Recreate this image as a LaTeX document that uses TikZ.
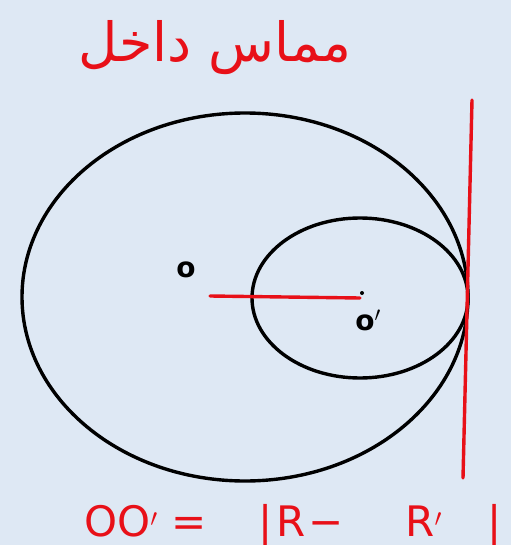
\documentclass[tikz,border=0pt]{standalone}
\usepackage{fontspec}
\setmainfont{DejaVu Sans}
\newfontfamily\arabicfont[Script=Arabic]{DejaVu Sans}
\TeXXeTstate=1
\usetikzlibrary{positioning}
\definecolor{paper}{RGB}{222,232,244}
\definecolor{ink}{RGB}{232,16,24}
\tikzset{
  rim/.style={line width=3.4pt,black},
  redline/.style={line width=3.4pt,ink,line cap=round},
  lbl/.style={inner sep=0pt,font=\bfseries\fontsize{28}{28}\selectfont},
}
\begin{document}
\begin{tikzpicture}[x=1pt,y=-1pt]
  % canvas
  \fill[paper] (0,0) rectangle (511,545);
  \useasboundingbox (0,0) rectangle (511,545);
  % centres
  \coordinate (O) at (245,297);
  \coordinate (Op) at (360,298);
  \coordinate (Ostart) at (210,296);
  % circles
  \draw[rim] (O) ellipse [x radius=223, y radius=184];
  \draw[rim] (Op) ellipse [x radius=108, y radius=80];
  % tangent line
  \coordinate (Ttop) at (472,100);
  \coordinate (Tbot) at (463,478);
  \draw[redline] (Ttop) -- (Tbot);
  % line of centres
  \draw[redline] (Ostart) -- (Op);
  \fill (362,293) circle (2);
  % labels
  \node[lbl] (labO) at (186,270) {o};
  \node[lbl] (labOp) at (368,320) {o$'$};
  \node[ink,inner sep=0pt,font=\arabicfont\fontsize{54}{54}\selectfont] (title) at (215,48) {\beginR مماس داخل\endR};
  \node[ink,inner sep=0pt,anchor=base west,font=\fontsize{42}{42}\selectfont] (formula) at (84,536)
    {OO$'$\kern14pt=\kern52pt|\kern4ptR\kern2pt−\kern62ptR$'$\kern46pt|};
\end{tikzpicture}
\end{document}
